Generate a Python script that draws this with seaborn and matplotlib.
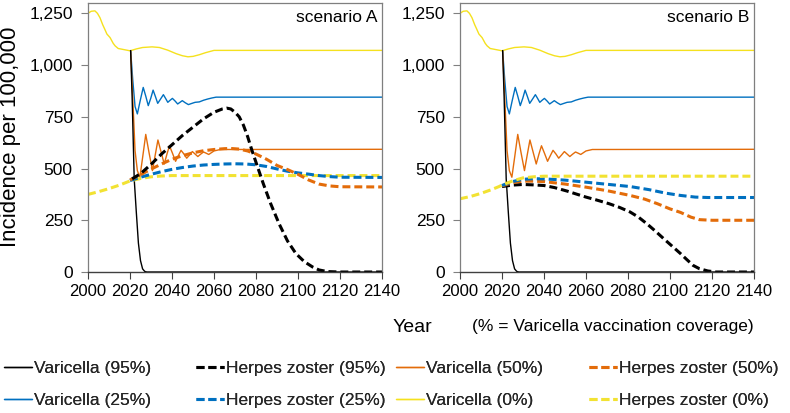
import matplotlib
matplotlib.use("Agg")
import matplotlib.pyplot as plt
from matplotlib import font_manager
from matplotlib.lines import Line2D
import seaborn as sns

# ---------------- data ----------------
# Varicella (solid), identical in both scenarios
var95_year = [2020.3, 2021, 2022, 2023, 2024, 2025, 2026, 2027, 2028, 2140]
var95_val = [1070, 850, 450, 290, 140, 55, 15, 3, 0, 0]

var50_year = [2020.3, 2021.4, 2022.4, 2023.5, 2024.7, 2026.1, 2027.5, 2029.1, 2030.7, 2032.0, 2033.3,
              2034.8, 2036.3, 2037.6, 2038.8, 2040.3, 2041.7, 2043.0, 2044.3, 2045.7, 2047.0,
              2048.4, 2049.7, 2051.0, 2052.3, 2053.7, 2055.0, 2056.3, 2057.5, 2060.0, 2063.0, 2140]
var50_val = [1070, 820, 587, 490, 458, 560, 665, 575, 490, 565, 638, 580, 522, 570, 610, 572, 535, 562,
             588, 570, 550, 566, 582, 570, 558, 570, 580, 574, 568, 585, 592, 593]

var25_year = [2020.3, 2021.3, 2022.4, 2023.5, 2024.9, 2026.3, 2027.5, 2028.7, 2029.9, 2031.0, 2032.1,
              2033.2, 2034.5, 2035.9, 2037.0, 2038.0, 2039.1, 2040.2, 2041.5, 2042.7, 2043.8,
              2044.9, 2046.3, 2047.8, 2049.5, 2051.0, 2053.0, 2055.0, 2057.0, 2059.0, 2061.0, 2140]
var25_val = [1070, 930, 800, 764, 830, 892, 850, 804, 840, 879, 848, 815, 835, 857, 838, 820, 830, 839,
             826, 812, 820, 828, 818, 809, 815, 820, 822, 830, 836, 841, 845, 845]

var0_year = [2000, 2001.5, 2003.3, 2004.5, 2005.7, 2007, 2008, 2009, 2010.5, 2012, 2012.9, 2014.4, 2016,
             2018, 2020, 2023, 2026, 2030.5, 2034, 2038, 2042, 2045, 2047.6, 2050, 2053, 2056, 2060, 2140]
var0_val = [1250, 1260, 1262, 1250, 1229, 1195, 1173, 1150, 1133, 1105, 1093, 1080, 1077, 1073, 1069,
            1078, 1085, 1088, 1085, 1072, 1055, 1045, 1040, 1042, 1050, 1060, 1071, 1071]

# Herpes zoster (dashed), scenario A
hzA95_year = [2021, 2025, 2030, 2035, 2040, 2045, 2050, 2055, 2060, 2064, 2066, 2068, 2070, 2072, 2074,
              2076, 2078, 2080, 2083.5, 2087, 2091, 2095, 2099, 2103, 2107, 2110, 2114, 2120, 2140]
hzA95_val = [450, 475, 520, 570, 615, 660, 700, 740, 772, 788, 792, 788, 772, 750, 710, 655, 590, 530,
             426, 330, 233, 150, 89, 50, 24, 10, 2, 0, 0]
hzA50_year = [2020, 2025, 2030, 2035, 2040, 2045, 2050, 2055, 2060, 2065, 2068, 2072, 2076, 2080, 2085,
              2090, 2095, 2100, 2105, 2110, 2115, 2120, 2140]
hzA50_val = [445, 470, 497, 522, 545, 562, 576, 586, 592, 596, 597, 594, 585, 570, 545, 515, 495, 472,
             445, 425, 416, 412, 411]
hzA25_year = [2020, 2025, 2030, 2035, 2040, 2045, 2050, 2055, 2060, 2065, 2070, 2075, 2080, 2085, 2090,
              2095, 2100, 2105, 2110, 2115, 2120, 2140]
hzA25_val = [442, 458, 472, 485, 496, 505, 512, 517, 520, 522, 523, 522, 518, 510, 498, 487, 479, 473,
             466, 461, 458, 457]
hzA0_year = [2000, 2005, 2010, 2015, 2020, 2025, 2030, 2035, 2040, 2045, 2140]
hzA0_val = [375, 388, 403, 420, 440, 452, 460, 464, 466, 466, 466]

# Herpes zoster (dashed), scenario B
hzB95_year = [2020, 2025, 2030, 2035, 2040, 2045, 2051, 2055, 2060, 2065, 2071, 2076, 2081, 2085, 2089,
              2093, 2097, 2101, 2105, 2108, 2111, 2114, 2118, 2122, 2140]
hzB95_val = [413, 420, 423, 421, 418, 408, 391, 378, 362, 348, 330, 312, 290, 265, 233, 198, 161, 125,
             89, 60, 32, 16, 5, 0, 0]
hzB50_year = [2020, 2025, 2030, 2035, 2040, 2050, 2060, 2070, 2081, 2088, 2094, 2100, 2105, 2110, 2114,
              2120, 2140]
hzB50_val = [416, 432, 439, 439, 437, 425, 410, 393, 370, 352, 330, 305, 288, 265, 253, 250, 250]
hzB25_year = [2020, 2025, 2030, 2035, 2040, 2050, 2060, 2070, 2081, 2090, 2098, 2105, 2112, 2118, 2140]
hzB25_val = [418, 437, 448, 451, 450, 444, 434, 424, 413, 398, 381, 370, 362, 360, 360]
hzB0_year = [2000, 2005, 2010, 2015, 2018.6, 2020, 2025, 2030, 2035, 2040, 2140]
hzB0_val = [354, 365, 380, 398, 413, 420, 440, 455, 460, 463, 463]

x_ticks = [2000, 2020, 2040, 2060, 2080, 2100, 2120, 2140]
y_ticks = [0, 250, 500, 750, 1000, 1250]
y_tick_labels = ["0", "250", "500", "750", "1,000", "1,250"]
panel_titles = ["scenario A", "scenario B"]
legend_labels = ["Varicella (95%)", "Herpes zoster (95%)", "Varicella (50%)", "Herpes zoster (50%)",
                 "Varicella (25%)", "Herpes zoster (25%)", "Varicella (0%)", "Herpes zoster (0%)"]

# ---------------- style ----------------
sns.set_theme(style="white")
names = {f.name for f in font_manager.fontManager.ttflist}
REG = "Liberation Sans" if "Liberation Sans" in names else "DejaVu Sans"
plt.rcParams["font.family"] = [REG, "DejaVu Sans"]

C_BLACK = "#000000"
C_ORANGE = "#E36C0A"
C_BLUE = "#0070C0"
C_YELLOW = "#F5E11E"
C_YELLOW_D = "#F2E232"
SOLID_LW = 1.0
DASH_LW = 2.2
DASHES = (2.6, 1.3)

fig = plt.figure(figsize=(7.9, 4.13), dpi=100)
W, H = 790, 413
axA = fig.add_axes([88 / W, 1 - 272 / H, 294 / W, 269 / H])
axB = fig.add_axes([460 / W, 1 - 272 / H, 294 / W, 269 / H])

solid = [(var0_year, var0_val, C_YELLOW), (var25_year, var25_val, C_BLUE),
         (var50_year, var50_val, C_ORANGE), (var95_year, var95_val, C_BLACK)]
dashedA = [(hzA0_year, hzA0_val, C_YELLOW_D), (hzA25_year, hzA25_val, C_BLUE),
           (hzA50_year, hzA50_val, C_ORANGE), (hzA95_year, hzA95_val, C_BLACK)]
dashedB = [(hzB95_year, hzB95_val, C_BLACK), (hzB50_year, hzB50_val, C_ORANGE),
           (hzB25_year, hzB25_val, C_BLUE), (hzB0_year, hzB0_val, C_YELLOW_D)]

for ax, dashed, title in [(axA, dashedA, panel_titles[0]), (axB, dashedB, panel_titles[1])]:
    for xs, ys, c in solid:
        sns.lineplot(x=xs, y=ys, ax=ax, color=c, lw=SOLID_LW, sort=False, legend=False)
    for xs, ys, c in dashed:
        sns.lineplot(x=xs, y=ys, ax=ax, color=c, lw=DASH_LW, sort=False, legend=False)
        ax.lines[-1].set_dashes(DASHES)
    ax.set_xlim(2000, 2140)
    ax.set_ylim(0, 1300)
    ax.set_xticks(x_ticks)
    ax.set_xticklabels([str(t) for t in x_ticks], fontsize=12, color="#000000")
    ax.set_yticks(y_ticks)
    ax.set_yticklabels(y_tick_labels, fontsize=12.5, color="#000000")
    ax.tick_params(axis="x", direction="out", length=5, width=0.8, color="#404040", pad=4,
                   bottom=True)
    ax.tick_params(axis="y", direction="out", length=5, width=0.8, color="#808080", pad=6,
                   left=True)
    for s in ["left", "right", "top"]:
        ax.spines[s].set_color("#7f7f7f")
        ax.spines[s].set_linewidth(0.9)
    ax.spines["bottom"].set_color("#404040")
    ax.spines["bottom"].set_linewidth(1.0)
    ax.set_xlabel("")
    ax.set_ylabel("")
    ax.text(0.985, 0.975, title, transform=ax.transAxes, ha="right", va="top", fontsize=12.5,
            color="#000000")

fig.text(11 / W, 1 - 137 / H, "Incidence per 100,000", rotation=90, ha="center", va="center",
         fontsize=16, color="#000000")
fig.text(412 / W, 1 - 327 / H, "Year", ha="center", va="center", fontsize=14, color="#000000")
fig.text(472 / W, 1 - 327 / H, "(% = Varicella vaccination coverage)", ha="left", va="center",
         fontsize=12.5, color="#000000")

# legend: 4 columns of 2 entries
styles = [(C_BLACK, "-", SOLID_LW), (C_BLACK, "--", DASH_LW), (C_ORANGE, "-", SOLID_LW),
          (C_ORANGE, "--", DASH_LW), (C_BLUE, "-", SOLID_LW), (C_BLUE, "--", DASH_LW),
          (C_YELLOW, "-", SOLID_LW), (C_YELLOW_D, "--", DASH_LW)]
handles = []
for c, ls, lw in styles:
    h = Line2D([], [], color=c, lw=lw, linestyle=ls)
    if ls == "--":
        h.set_dashes(DASHES)
    handles.append(h)
col_x = [4, 196, 396, 589]
col_idx = [[0, 4], [1, 5], [2, 6], [3, 7]]
for x0, idx in zip(col_x, col_idx):
    leg = fig.legend([handles[i] for i in idx], [legend_labels[i] for i in idx],
                     loc="upper left", bbox_to_anchor=(x0 / W, 1 - 361 / H), frameon=False,
                     ncol=1, handlelength=1.6, handletextpad=0.15, labelspacing=0.95,
                     borderaxespad=0, borderpad=0, prop={"size": 12.5})
    fig.add_artist(leg)

fig.savefig("out.png", dpi=100)
